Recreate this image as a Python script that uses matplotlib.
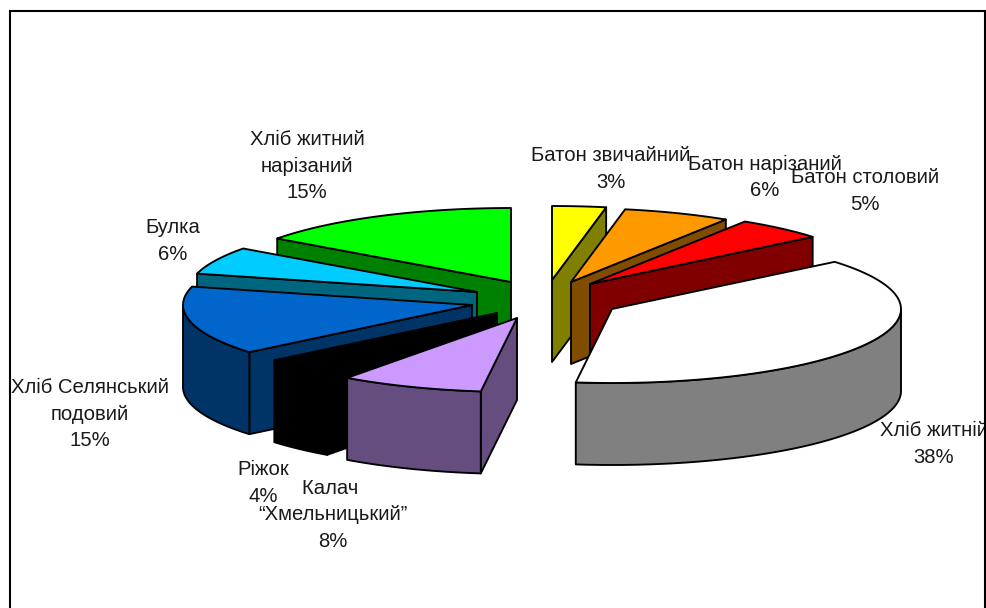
import numpy as np
import matplotlib
matplotlib.use("Agg")
import matplotlib.pyplot as plt
from matplotlib.patches import Polygon

# Share of each product, clockwise from twelve o'clock
products = ["Батон звичайний", "Батон нарізаний", "Батон столовий", "Хліб житній",
            "Калач \n“Хмельницький”", "Ріжок", "Хліб Селянський\nподовий",
            "Булка", "Хліб житний\nнарізаний"]
shares = [3, 6, 5, 38, 8, 4, 15, 6, 15]

top_colors = ["#FFFF00", "#FF9900", "#FF0000", "#FFFFFF", "#CC99FF",
              "#000000", "#0066CC", "#00CCFF", "#00FF00"]
wall_colors = ["#808000", "#804D00", "#800000", "#808080", "#664D80",
               "#000000", "#003366", "#006680", "#008000"]

# Projection of the pie disc, in pixels
CENTRE = (531.0, 298.0)
RX, RY = 289.0, 74.0
DEPTH = 82.0

# Explosion offset of each slice from the pie centre
shifts = [(21, -18), (40, -16), (59, -14), (81, 11), (-14, 20),
          (-34, 15), (-59, 7), (-54, -6), (-20, -16)]

# Painter's order, back to front
paint_order = [0, 1, 2, 3, 8, 7, 6, 5, 4]

# Centre of each label block
label_xy = [(611, 169), (765, 177), (865, 191), (934, 444), (333, 515),
            (263, 483), (90, 414), (173, 241), (307, 166)]

plt.rcParams["font.family"] = ["Liberation Sans", "DejaVu Sans"]
fig = plt.figure(figsize=(9.87, 6.08), dpi=100, facecolor="white")
ax = fig.add_axes([0, 0, 1, 1])
ax.set_xlim(0, 987)
ax.set_ylim(608, 0)
ax.axis("off")

EDGE = dict(edgecolor="black", linewidth=1.35, joinstyle="round")


def rim(apex, deg):
    """Points on the elliptical rim for clockwise angles from the top."""
    rad = np.radians(deg)
    return np.column_stack([apex[0] + RX * np.sin(rad), apex[1] - RY * np.cos(rad)])


def radial_face(apex, deg):
    outer = rim(apex, np.array([deg]))[0]
    return [apex, tuple(outer), (outer[0], outer[1] + DEPTH), (apex[0], apex[1] + DEPTH)]


bounds = np.concatenate([[0], np.cumsum(shares)]) * 360.0 / sum(shares)

for i in paint_order:
    a0, a1 = bounds[i], bounds[i + 1]
    apex = (CENTRE[0] + shifts[i][0], CENTRE[1] + shifts[i][1])
    wall, top = wall_colors[i], top_colors[i]

    # Cut faces turned towards the viewer
    if np.sin(np.radians(a0)) < 0:
        ax.add_patch(Polygon(radial_face(apex, a0), facecolor=wall, **EDGE))
    if np.sin(np.radians(a1)) > 0:
        ax.add_patch(Polygon(radial_face(apex, a1), facecolor=wall, **EDGE))

    # Outer wall on the near half of the rim
    lo, hi = max(a0, 90.0), min(a1, 270.0)
    if lo < hi:
        arc = rim(apex, np.linspace(lo, hi, 80))
        lower = arc[::-1] + np.array([0.0, DEPTH])
        ax.add_patch(Polygon(np.vstack([arc, lower]), facecolor=wall, **EDGE))

    # Top surface
    outline = np.vstack([[apex], rim(apex, np.linspace(a0, a1, 80))])
    ax.add_patch(Polygon(outline, facecolor=top, **EDGE))

for name, share, (x, y) in zip(products, shares, label_xy):
    ax.text(x, y, f"{name}\n{share}%", ha="center", va="center", ma="center",
            fontsize=14.6, color="#1a1a1a", linespacing=1.47, zorder=10)

# Chart frame: open at the bottom, where it runs off the page
ax.plot([10, 10, 984.5, 984.5], [608, 10.5, 10.5, 608], color="black", lw=1.5,
        solid_joinstyle="miter", zorder=11)

fig.savefig("out.png", dpi=100, facecolor="white")
